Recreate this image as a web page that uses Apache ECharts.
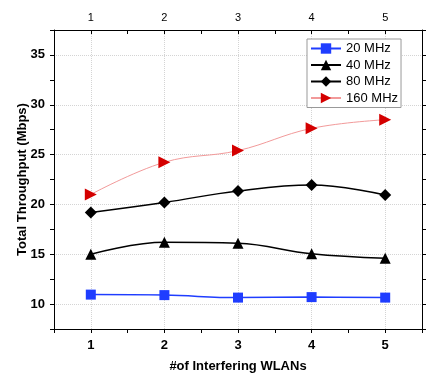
<!DOCTYPE html>
<html><head><meta charset="utf-8">
<script src="https://cdn.jsdelivr.net/npm/echarts@6/dist/echarts.min.js"></script>
<style>html,body{margin:0;padding:0;background:#fff}#c{width:427px;height:376px}</style>
</head><body><div id="c"></div>
<script>
var xValues = [1, 2, 3, 4, 5];
var s20 = [10.95, 10.9, 10.65, 10.7, 10.65];
var s40 = [15.0, 16.2, 16.1, 15.05, 14.6];
var s80 = [19.2, 20.2, 21.35, 21.95, 20.95];
var s160 = [21.0, 24.23, 25.4, 27.63, 28.5];
var seriesNames = ['20 MHz', '40 MHz', '80 MHz', '160 MHz'];
var xTitle = '#of Interfering WLANs';
var yTitle = 'Total Throughput (Mbps)';

function pairs(arr){ return xValues.map(function(x,i){ return [x, arr[i]]; }); }
var FONT = 'Liberation Sans, Arial, sans-serif';
var gridLine = { show: true, lineStyle: { type: 'dotted', width: 1, color: ['transparent', '#d4d4d4'] } };

var chart = echarts.init(document.getElementById('c'), null, { renderer: 'canvas' });
chart.setOption({
  animation: false,
  backgroundColor: '#fff',
  grid: { left: 54, right: 5, top: 30, bottom: 47, containLabel: false, outerBoundsMode: 'none' },
  legend: {
    orient: 'vertical', left: 307, top: 39,
    itemWidth: 30, itemHeight: 13, itemGap: 3.5,
    padding: [3, 3, 3, 3],
    borderColor: '#999', borderWidth: 1, backgroundColor: '#fff',
    textStyle: { fontFamily: FONT, fontSize: 13, color: '#000' },
    data: seriesNames
  },
  xAxis: [{
    type: 'value', position: 'bottom', min: 0.5, max: 5.5, interval: 0.5,
    name: xTitle, nameLocation: 'middle', nameGap: 31, nameMoveOverlap: false,
    nameTextStyle: { fontFamily: FONT, fontSize: 13, fontWeight: 'bold', color: '#000' },
    axisLine: { show: true, onZero: false, lineStyle: { color: '#000', width: 1 } },
    axisTick: { show: true, inside: false, length: 4, lineStyle: { color: '#000' } },
    axisLabel: { margin: 10, fontFamily: FONT, fontSize: 13, fontWeight: 'bold', color: '#000',
      formatter: function(v){ return Math.abs(v - Math.round(v)) < 1e-6 && v >= 1 && v <= 5 ? String(Math.round(v)) : ''; } },
    splitLine: gridLine
  }, {
    type: 'value', position: 'top', min: 0.5, max: 5.5, interval: 0.5,
    axisLine: { show: true, onZero: false, lineStyle: { color: '#000', width: 1 } },
    axisTick: { show: true, inside: true, length: 4, lineStyle: { color: '#000' } },
    axisLabel: { margin: 7, fontFamily: FONT, fontSize: 11, color: '#000',
      formatter: function(v){ return Math.abs(v - Math.round(v)) < 1e-6 && v >= 1 && v <= 5 ? String(Math.round(v)) : ''; } },
    splitLine: { show: false }
  }],
  yAxis: [{
    type: 'value', position: 'left', min: 7.5, max: 37.5, interval: 2.5,
    name: yTitle, nameLocation: 'middle', nameGap: 25, nameMoveOverlap: false,
    nameTextStyle: { fontFamily: FONT, fontSize: 13, fontWeight: 'bold', color: '#000' },
    axisLine: { show: true, onZero: false, lineStyle: { color: '#000', width: 1 } },
    axisTick: { show: true, inside: false, length: 4, lineStyle: { color: '#000' } },
    axisLabel: { margin: 9, fontFamily: FONT, fontSize: 13, fontWeight: 'bold', color: '#000',
      formatter: function(v){ return (Math.abs(v % 5) < 1e-6) ? String(v) : ''; } },
    splitLine: gridLine
  }, {
    type: 'value', position: 'right', min: 7.5, max: 37.5, interval: 2.5,
    axisLine: { show: true, onZero: false, lineStyle: { color: '#000', width: 1 } },
    axisTick: { show: true, inside: false, length: 4, lineStyle: { color: '#000' } },
    axisLabel: { show: false },
    splitLine: { show: false }
  }],
  series: [{
    name: seriesNames[0], type: 'line', smooth: 0.4, data: pairs(s20),
    symbol: 'rect', symbolSize: 10,
    lineStyle: { color: '#1f3dff', width: 1.5 },
    itemStyle: { color: '#1f3dff' }
  }, {
    name: seriesNames[1], type: 'line', smooth: 0.4, data: pairs(s40),
    symbol: 'triangle', symbolSize: 11,
    lineStyle: { color: '#000', width: 1.5 },
    itemStyle: { color: '#000' }
  }, {
    name: seriesNames[2], type: 'line', smooth: 0.4, data: pairs(s80),
    symbol: 'diamond', symbolSize: 12,
    lineStyle: { color: '#000', width: 1.5 },
    itemStyle: { color: '#000' }
  }, {
    name: seriesNames[3], type: 'line', smooth: 0.4, data: pairs(s160),
    symbol: 'triangle', symbolSize: 12, symbolRotate: -90,
    lineStyle: { color: '#f29a9a', width: 1 },
    itemStyle: { color: '#d40000' }
  }]
});
</script></body></html>
